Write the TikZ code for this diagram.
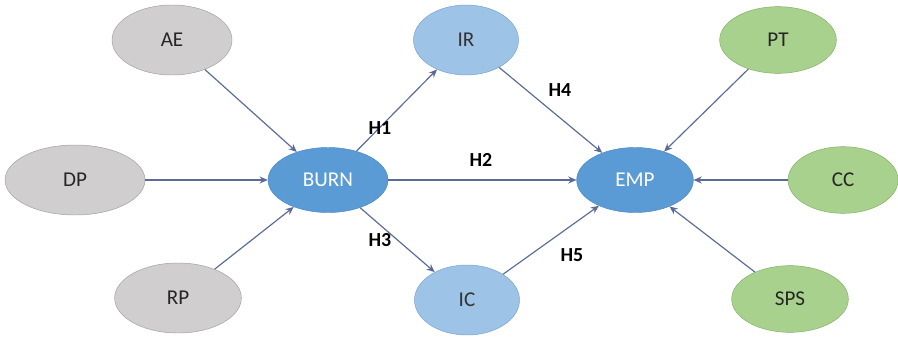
\documentclass[tikz,border=0pt]{standalone}
\usepackage{fontspec}
\setmainfont{Carlito}
\usepackage{tikz}
\usetikzlibrary{arrows.meta, shapes.geometric, positioning}
\definecolor{grayfill}  {RGB}{208, 206, 206}
\definecolor{grayline}  {RGB}{160, 160, 160}
\definecolor{burnblue}  {RGB}{ 91, 155, 213}
\definecolor{burnline}  {RGB}{ 74, 134, 192}
\definecolor{lightblue} {RGB}{157, 195, 230}
\definecolor{lightline} {RGB}{122, 160, 210}
\definecolor{greenfill} {RGB}{169, 209, 142}
\definecolor{greenline} {RGB}{130, 175, 100}
\definecolor{arrowcol}  {RGB}{ 90, 108, 150}

\begin{document}
\begin{tikzpicture}[x=0.03cm, y=-0.03cm,
	factor/.style={ellipse, draw=grayline, fill=grayfill, minimum width=3.6cm, minimum height=2.1cm, font=\fontsize{18}{20}\selectfont, text=black!85},
	core/.style={ellipse, draw=burnline, fill=burnblue, minimum width=3.6cm, minimum height=1.95cm, font=\fontsize{18}{20}\selectfont, text=white},
	mediator/.style={ellipse, draw=lightline, fill=lightblue, minimum width=3.15cm, minimum height=2.1cm, font=\fontsize{18}{20}\selectfont, text=black!80},
	control/.style={ellipse, draw=greenline, fill=greenfill, minimum width=3.5cm, minimum height=2.0cm, font=\fontsize{18}{20}\selectfont, text=black!85},
	arr/.style={draw=arrowcol, line width=1pt, -{Stealth[length=7pt,width=6pt]}},
	hyp/.style={font=\bfseries\fontsize{17}{19}\selectfont}
]
	\useasboundingbox[fill=white] (0,0) rectangle (898,337);
	% antecedents
	\node[factor] (ae) at (172,40) {AE};
	\node[factor, minimum width=4.2cm] (dp) at (75,180) {DP};
	\node[factor, minimum width=3.8cm] (rp) at (178,298) {RP};
	% core constructs
	\node[core] (burn) at (328,180) {BURN};
	\node[core, minimum width=3.5cm] (emp) at (635,180) {EMP};
	\node[mediator] (ir) at (466,40) {IR};
	\node[mediator] (ic) at (467,300) {IC};
	% controls
	\node[control] (pt) at (778,40) {PT};
	\node[control, minimum width=3.3cm] (cc) at (843,180) {CC};
	\node[control] (sps) at (790,299) {SPS};
	% paths
	\draw[arr] (ae) -- (burn);
	\draw[arr] (dp) -- (burn);
	\draw[arr] (rp) -- (burn);
	\draw[arr] (burn) -- (ir);
	\draw[arr] (burn) -- (emp);
	\draw[arr] (burn) -- (ic);
	\draw[arr] (ir) -- (emp);
	\draw[arr] (ic) -- (emp);
	\draw[arr] (pt) -- (emp);
	\draw[arr] (cc) -- (emp);
	\draw[arr] (sps) -- (emp);
	% hypotheses
	\node[hyp] (h1) at (380,128) {H1};
	\node[hyp] (h2) at (481,160) {H2};
	\node[hyp] (h3) at (380,240) {H3};
	\node[hyp] (h4) at (560,90) {H4};
	\node[hyp] (h5) at (572,255) {H5};
\end{tikzpicture}
\end{document}
